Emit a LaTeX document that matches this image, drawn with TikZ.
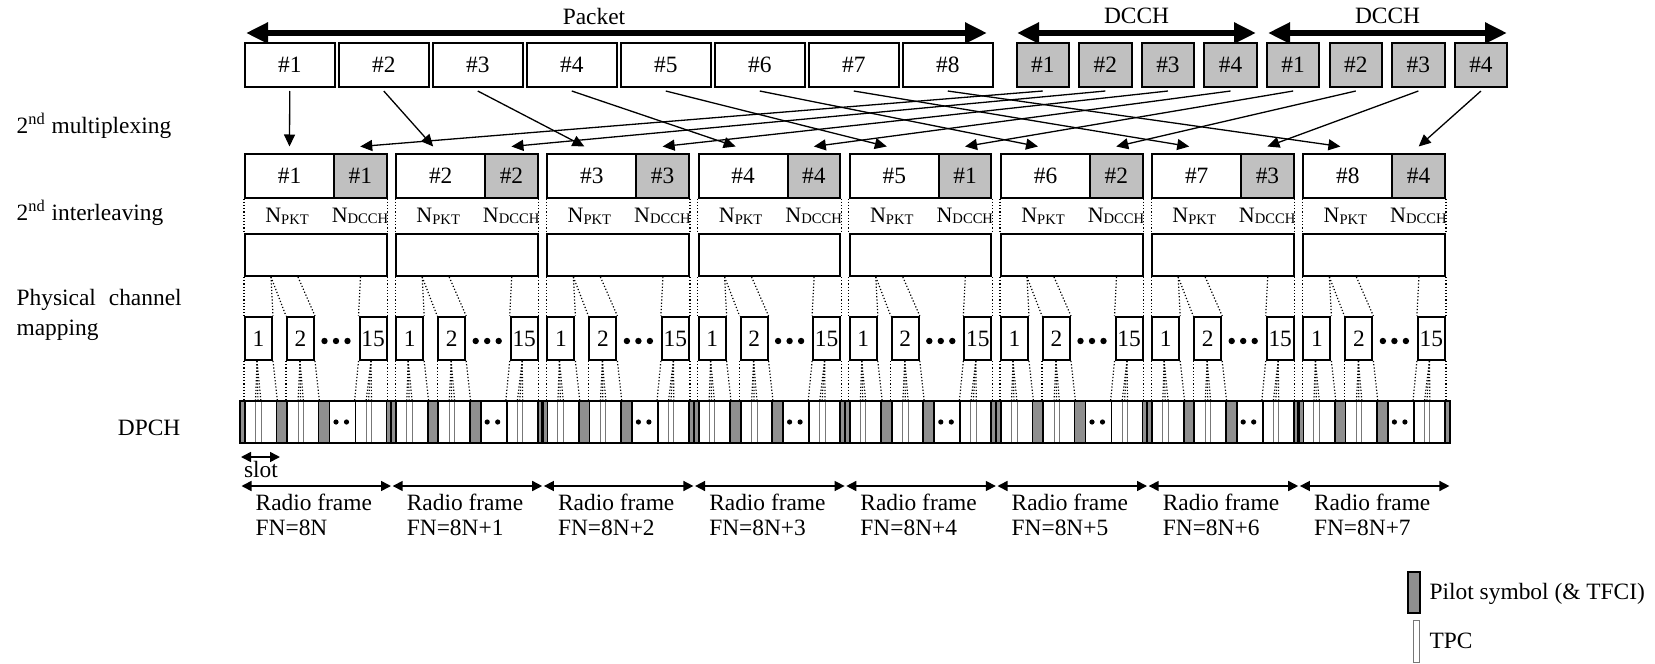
\documentclass[tikz,border=0pt]{standalone}
\usepackage{fontspec}
\setmainfont{Liberation Serif}
\usetikzlibrary{arrows.meta, calc}
\definecolor{cbox}{HTML}{C0C0C0}
\definecolor{cpilot}{HTML}{8F8F8F}
\definecolor{ctpc}{HTML}{777777}
\newcommand{\lbl}{\fontsize{11.7}{11.5}\selectfont}
\newcommand{\nsub}[1]{{\fontsize{11}{11}\selectfont N}\raisebox{-0.8pt}{\fontsize{7.3}{7.3}\selectfont #1}}
\tikzset{
  every picture/.style={line width=0.65pt},
  pbox/.style={draw, line width=1pt, inner sep=0pt, minimum width=44.75pt, minimum height=22pt},
  dbox/.style={pbox, fill=cbox, minimum width=26.25pt},
  mbox/.style={pbox, minimum width=44.5pt},
  gbox/.style={pbox, fill=cbox, minimum width=26.25pt},
  ibox/.style={pbox, minimum width=70.75pt, minimum height=21pt},
  sbox/.style={pbox, minimum width=13.5pt, minimum height=21.5pt},
  bigarrow/.style={{Triangle[length=11pt, width=10pt]}-{Triangle[length=11pt, width=10pt]}, line width=3.3pt},
  conn/.style={-{Triangle[length=6pt, width=5.5pt]}},
  dimarrow/.style={{Triangle[length=5pt, width=5pt]}-{Triangle[length=5pt, width=5pt]}, line width=0.8pt},
  guide/.style={densely dotted, line width=0.6pt},
  pilot/.style={draw, fill=cpilot, line width=0.9pt},
  tpc/.style={draw=ctpc, line width=0.5pt},
  side/.style={anchor=west, align=left, inner sep=0pt},
}
\begin{document}
\begin{tikzpicture}[x=0.5pt, y=-0.5pt, every node/.append style={font=\lbl}]
  \useasboundingbox (0,0) rectangle (1655,664);
  % row labels
  \node[side] (mux) at (16,126) {2\textsuperscript{nd} multiplexing};
  \node[side] (ilv) at (16,213) {2\textsuperscript{nd} interleaving};
  \node[side, font=\fontsize{11.7}{15}\selectfont] (pcm) at (16,314.5) {\makebox[82.5pt][s]{Physical channel}\\mapping};
  \node[anchor=east, inner sep=0pt] (dpch) at (181,427.5) {DPCH};
  % packet and DCCH blocks
  \coordinate (pkl) at (246,33);
  \coordinate (pkr) at (987,33);
  \draw[bigarrow] (pkl) -- (pkr);
  \node (pkt) at (594,16) {Packet};
  \foreach \g/\xa in {a/1017, b/1268} {
    \coordinate (\g l) at (\xa,33);
    \coordinate (\g r) at (\xa+239,33);
    \draw[bigarrow] (\g l) -- (\g r);
    \node (dcch\g) at (\xa+119.5,16) {DCCH};
  }
  \foreach \k in {1,...,8}
    \node[pbox] (p\k) at ({289.75+(\k-1)*94},65) {\#\k};
  \foreach \j in {1,...,4} {
    \node[dbox] (da\j) at ({1042.75+(\j-1)*62.6},65) {\#\j};
    \node[dbox] (db\j) at ({1293.15+(\j-1)*62.6},65) {\#\j};
  }
  % radio frames
  \foreach \k in {1,...,8} {
    \pgfmathsetmacro{\xo}{245+(\k-1)*151.2}
    \pgfmathtruncatemacro{\d}{mod(\k-1,4)+1}
    \pgfmathtruncatemacro{\m}{\k-1}
    \node[mbox] (mw\k) at (\xo+44.5,175.5) {\#\k};
    \node[gbox] (mg\k) at (\xo+115.25,175.5) {\#\d};
    \node (np\k) at (\xo+42,216) {\nsub{PKT}};
    \node (nd\k) at (\xo+115,216) {\nsub{DCCH}};
    \node[ibox] (il\k) at (\xo+70.75,255) {};
    \node[sbox] (sa\k) at (\xo+13.5,338.5) {1};
    \node[sbox] (sb\k) at (\xo+55.5,338.5) {2};
    \node[sbox] (sc\k) at (\xo+128,338.5) {15};
    \foreach \t in {79.5,91,102.5} \fill (\xo+\t,341) circle (1.6pt);
    \draw[guide] (mw\k.south west) -- (il\k.north west);
    \draw[guide] (mg\k.south east) -- (il\k.north east);
    % interleaver to slots
    \draw[guide] (il\k.south west) -- (sa\k.north west);
    \draw[guide] ($(il\k.south west)+(27,0)$) -- (sa\k.north east);
    \draw[guide] ($(il\k.south west)+(27,0)$) -- (sb\k.north west);
    \draw[guide] ($(il\k.south west)+(54,0)$) -- (sb\k.north east);
    \draw[guide] ($(il\k.south east)+(-27,0)$) -- (sc\k.north west);
    \draw[guide] (il\k.south east) -- (sc\k.north east);
    % DPCH frame
    \foreach \s/\e in {-5/0, 31.5/42, 73.5/84.5, 141.5/146.2}
      \draw[pilot] (\xo+\s,401) rectangle (\xo+\e,443);
    \foreach \t in {10.5,53,121}
      \draw[tpc] (\xo+\t,401) rectangle ++(5.5,42);
    \draw[line width=0.9pt] (\xo+110.5,401) -- (\xo+110.5,443);
    \fill (\xo+91,422) circle (1.3pt) (\xo+101.5,422) circle (1.3pt);
    \draw[line width=1.1pt] (\xo-5,401) rectangle (\xo+146.2,443);
    % slots to DPCH
    \draw[guide] (sa\k.south west) -- ++(0,41);
    \foreach \t in {-1.5,1,4} \draw[guide] ($(sa\k.south)+(-1.5,0)$) -- ++(\t,41);
    \draw[guide] (sa\k.south east) -- ++(4.5,41);
    \draw[guide] (sb\k.south west) -- ++(0,41);
    \foreach \t in {-2,0.5,3.5} \draw[guide] ($(sb\k.south)+(-0.5,0)$) -- ++(\t,41);
    \draw[guide] (sb\k.south east) -- ++(4.5,41);
    \draw[guide] (sc\k.south west) -- ++(-4,41);
    \foreach \t in {-5,-2.5,0.5} \draw[guide] ($(sc\k.south)+(-2,0)$) -- ++(\t,41);
    \draw[guide] (sc\k.south east) -- ++(0,41);
    % frame span
    \coordinate (rl\k) at (\xo-3.5,486);
    \coordinate (rr\k) at (\xo+146,486);
    \draw[dimarrow] (rl\k) -- (rr\k);
    \node[side, font=\fontsize{11.7}{12.3}\selectfont] (rf\k) at (\xo+10,515) {Radio frame\\FN=8N\ifnum\m>0 +\m\fi};
  }
  % 2nd multiplexing
  \foreach \k in {1,...,8} {
    \pgfmathsetmacro{\dx}{\k==1 ? 0 : -7.5}
    \draw[conn] ($(p\k.south)+(0,3)$) -- ($(mw\k.north)+(\dx,-6)$);
  }
  \foreach \j [evaluate=\j as \n using int(\j+4)] in {1,...,4} {
    \draw[conn] ($(da\j.south)+(0,3)$) -- ($(mg\j.north)+(0,-6)$);
    \draw[conn] ($(db\j.south)+(0,3)$) -- ($(mg\n.north)+(0,-6)$);
  }
  % slot
  \coordinate (sll) at (241,457);
  \coordinate (slr) at (280,457);
  \draw[dimarrow] (sll) -- (slr);
  \node (slot) at (261,469) {slot};
  % legend
  \draw[pilot] (1408,572) rectangle (1420,613);
  \node[side] (lgp) at (1429,594) {Pilot symbol (\& TFCI)};
  \draw[tpc] (1413.5,620) rectangle (1419.5,662);
  \node[side] (lgt) at (1429,641) {TPC};
\end{tikzpicture}
\end{document}
